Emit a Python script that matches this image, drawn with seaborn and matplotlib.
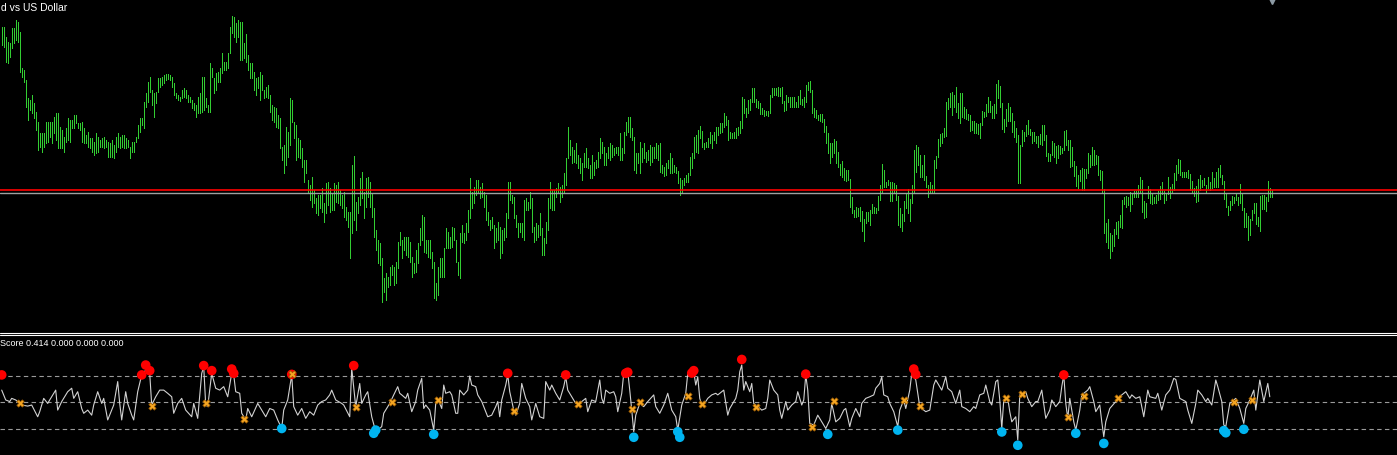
import numpy as np
import pandas as pd
import matplotlib
matplotlib.use('Agg')
import matplotlib.pyplot as plt
from matplotlib.lines import Line2D
import seaborn as sns

sns.set_theme(style='dark', rc={'axes.facecolor': 'black', 'figure.facecolor': 'black'})
plt.rcParams['font.family'] = ['Liberation Sans', 'DejaVu Sans']

# Prezzi in punti (price = BASE + pts * POINT), una barra ogni 2 px
BASE = 0.69000
POINT = 0.00001

hi_pts = [
    950, 950, 920, 905, 900, 945, 945, 970, 965, 935, 825, 820, 790, 735, 730, 745, 720, 695, 665, 630,
    630, 630, 665, 665, 665, 665, 680, 690, 690, 650, 640, 620, 645, 675, 670, 670, 685, 685, 660, 660,
    663, 645, 625, 635, 615, 615, 605, 630, 620, 610, 615, 620, 610, 605, 600, 610, 595, 620, 630, 620,
    625, 625, 615, 610, 590, 605, 605, 620, 655, 675, 675, 725, 750, 785, 800, 760, 750, 755, 795, 795,
    800, 805, 808, 807, 804, 800, 782, 750, 745, 738, 760, 765, 760, 745, 740, 730, 720, 715, 738, 750,
    800, 800, 735, 715, 840, 825, 795, 810, 815, 825, 870, 845, 845, 870, 950, 982, 978, 960, 970, 965,
    965, 900, 928, 865, 840, 840, 815, 795, 800, 815, 805, 760, 770, 775, 745, 715, 710, 705, 685, 675,
    590, 595, 650, 635, 735, 730, 665, 655, 615, 610, 585, 550, 550, 490, 475, 500, 460, 435, 445, 445,
    465, 420, 480, 485, 465, 450, 480, 475, 485, 460, 445, 455, 410, 395, 395, 535, 562, 425, 440, 495,
    515, 455, 495, 500, 485, 450, 405, 340, 310, 300, 255, 195, 210, 200, 230, 235, 230, 245, 305, 335,
    310, 320, 320, 320, 305, 260, 240, 280, 300, 345, 385, 380, 310, 310, 310, 275, 245, 180, 230, 255,
    255, 285, 345, 335, 320, 350, 345, 310, 245, 330, 355, 330, 360, 400, 495, 455, 470, 490, 490, 470,
    480, 455, 445, 395, 370, 380, 355, 345, 365, 350, 340, 345, 390, 485, 485, 445, 440, 385, 360, 360,
    360, 430, 435, 425, 455, 435, 350, 360, 355, 390, 345, 315, 365, 435, 485, 460, 460, 465, 480, 470,
    475, 510, 555, 650, 610, 590, 580, 600, 565, 555, 540, 570, 585, 555, 535, 565, 545, 550, 575, 615,
    605, 590, 570, 590, 600, 595, 585, 590, 590, 630, 585, 635, 665, 678, 680, 645, 620, 570, 570, 605,
    585, 600, 575, 580, 595, 590, 590, 600, 595, 602, 535, 530, 540, 550, 570, 555, 535, 530, 518, 495,
    490, 495, 505, 512, 560, 570, 620, 625, 640, 652, 638, 602, 605, 615, 635, 625, 635, 650, 650, 660,
    660, 692, 682, 670, 635, 630, 635, 645, 648, 667, 740, 732, 705, 730, 732, 765, 765, 732, 728, 720,
    705, 700, 698, 697, 745, 765, 765, 765, 768, 765, 768, 728, 745, 738, 738, 738, 738, 725, 742, 760,
    732, 738, 775, 785, 787, 760, 705, 700, 685, 688, 688, 672, 652, 630, 600, 602, 612, 608, 573, 537,
    548, 525, 520, 520, 493, 438, 400, 410, 405, 408, 398, 374, 395, 395, 400, 418, 410, 405, 442, 475,
    538, 520, 485, 490, 485, 485, 480, 475, 443, 405, 388, 427, 450, 462, 433, 475, 580, 595, 590, 565,
    535, 565, 502, 475, 485, 475, 550, 562, 612, 628, 632, 645, 725, 735, 750, 755, 745, 768, 722, 750,
    750, 708, 702, 687, 685, 667, 667, 660, 658, 660, 697, 695, 718, 738, 728, 712, 718, 778, 790, 772,
    720, 672, 702, 720, 708, 690, 667, 645, 625, 595, 640, 633, 655, 670, 642, 635, 633, 622, 622, 628,
    655, 655, 625, 570, 568, 607, 600, 592, 595, 592, 585, 637, 640, 610, 610, 588, 547, 532, 505, 520,
    526, 524, 522, 570, 565, 588, 580, 565, 562, 520, 517, 462, 360, 372, 330, 325, 343, 365, 367, 385,
    430, 438, 442, 440, 455, 450, 457, 457, 475, 498, 490, 428, 422, 472, 462, 452, 440, 445, 458, 472,
    485, 457, 448, 498, 468, 478, 510, 535, 552, 550, 515, 515, 515, 520, 508, 487, 465, 472, 492, 505,
    490, 495, 475, 498, 485, 514, 495, 513, 525, 535, 505, 488, 450, 412, 427, 442, 440, 450, 440, 478,
    450, 405, 390, 382, 372, 400, 420, 420, 380, 442, 445, 445, 438, 487, 465, 460,
]

lo_pts = [
    895, 888, 845, 840, 860, 885, 900, 910, 905, 815, 800, 785, 710, 670, 700, 690, 675, 640, 580, 590,
    575, 590, 600, 605, 620, 600, 630, 610, 585, 585, 585, 575, 605, 610, 605, 645, 645, 660, 645, 640,
    605, 600, 600, 590, 585, 575, 565, 570, 575, 590, 590, 585, 590, 560, 560, 560, 555, 575, 590, 585,
    590, 585, 585, 590, 555, 575, 575, 605, 615, 635, 655, 645, 710, 725, 755, 715, 680, 720, 755, 770,
    775, 780, 790, 793, 790, 770, 745, 735, 730, 728, 735, 740, 735, 725, 725, 705, 700, 680, 690, 690,
    695, 700, 710, 695, 695, 800, 750, 760, 785, 785, 810, 820, 820, 825, 870, 930, 920, 905, 920, 850,
    850, 855, 845, 820, 795, 795, 760, 745, 765, 730, 760, 735, 740, 735, 695, 670, 665, 650, 645, 585,
    550, 510, 535, 560, 595, 665, 615, 550, 560, 555, 530, 485, 510, 450, 430, 410, 420, 390, 385, 405,
    395, 365, 390, 415, 395, 400, 400, 425, 420, 415, 405, 380, 370, 350, 255, 330, 370, 340, 390, 415,
    435, 375, 410, 440, 410, 380, 320, 280, 240, 235, 125, 155, 130, 170, 175, 205, 175, 180, 225, 295,
    255, 280, 265, 260, 245, 200, 210, 215, 240, 295, 310, 275, 270, 260, 255, 225, 135, 130, 145, 200,
    200, 200, 285, 285, 285, 290, 310, 245, 205, 195, 305, 300, 310, 335, 375, 405, 420, 445, 450, 435,
    440, 410, 370, 355, 340, 345, 285, 305, 310, 255, 270, 310, 320, 375, 430, 420, 375, 350, 320, 335,
    320, 310, 400, 400, 405, 335, 305, 310, 320, 325, 265, 265, 300, 340, 405, 400, 400, 440, 455, 425,
    440, 455, 475, 555, 565, 540, 545, 540, 525, 510, 490, 530, 530, 525, 495, 495, 505, 525, 530, 555,
    570, 535, 535, 555, 550, 560, 565, 570, 565, 550, 550, 570, 625, 635, 620, 610, 520, 510, 540, 510,
    545, 555, 545, 550, 535, 545, 555, 555, 550, 515, 510, 503, 505, 525, 510, 510, 515, 510, 480, 445,
    450, 475, 485, 485, 505, 525, 555, 575, 570, 615, 590, 582, 590, 590, 600, 585, 610, 600, 625, 630,
    635, 650, 655, 610, 615, 615, 615, 615, 625, 632, 645, 690, 678, 690, 700, 725, 725, 710, 707, 688,
    688, 682, 685, 683, 690, 738, 745, 745, 742, 742, 720, 698, 700, 725, 708, 710, 710, 710, 710, 718,
    715, 708, 725, 760, 755, 690, 680, 675, 670, 667, 665, 635, 602, 572, 542, 560, 572, 540, 530, 505,
    500, 490, 488, 490, 410, 392, 380, 378, 382, 368, 338, 308, 360, 368, 355, 390, 390, 390, 400, 430,
    455, 470, 468, 475, 428, 428, 450, 430, 355, 350, 338, 368, 405, 390, 368, 422, 455, 515, 535, 500,
    500, 490, 470, 438, 452, 452, 455, 525, 560, 592, 602, 618, 622, 702, 708, 685, 708, 695, 675, 660,
    680, 675, 672, 670, 638, 640, 632, 630, 628, 615, 655, 678, 682, 695, 695, 675, 675, 690, 735, 710,
    642, 635, 652, 668, 668, 635, 620, 605, 482, 480, 592, 608, 622, 628, 625, 602, 608, 602, 588, 598,
    595, 610, 562, 548, 548, 565, 560, 542, 555, 568, 570, 580, 595, 580, 530, 532, 502, 472, 465, 488,
    460, 460, 495, 512, 530, 535, 535, 538, 505, 490, 450, 330, 305, 287, 255, 278, 292, 328, 317, 348,
    347, 418, 410, 415, 398, 418, 438, 440, 440, 452, 395, 375, 378, 435, 422, 418, 420, 422, 430, 432,
    448, 420, 430, 448, 435, 455, 460, 490, 512, 505, 498, 498, 498, 495, 460, 450, 442, 425, 428, 460,
    470, 475, 452, 465, 460, 465, 468, 468, 470, 500, 478, 433, 408, 385, 400, 415, 422, 430, 415, 420,
    400, 348, 350, 310, 325, 370, 390, 358, 352, 338, 403, 403, 398, 428, 440, 438,
]

ask_pts = 459
bid_pts = 451

# Oscillatore "Score": vertici (indice barra, valore)
osc_i = [
    0, 2, 4, 5, 7, 9, 10, 13, 15, 18, 19, 21, 23, 24, 27, 28, 30, 33, 35, 36, 38, 40, 41, 43, 45, 46, 48,
    50, 51, 53, 55, 56, 58, 59, 60, 62, 63, 65, 66, 68, 70, 72, 74, 75, 77, 79, 81, 83, 85, 86, 88, 90,
    92, 95, 96, 98, 100, 101, 102, 103, 105, 107, 109, 111, 113, 115, 116, 117, 119, 120, 122, 123, 125,
    128, 130, 132, 134, 136, 138, 140, 141, 143, 145, 146, 148, 150, 152, 154, 156, 158, 160, 162, 164,
    165, 167, 170, 171, 174, 175, 177, 179, 180, 182, 183, 185, 187, 190, 191, 194, 196, 198,
    199, 200, 202, 203, 205, 207, 208, 210, 211, 212, 214, 215, 216, 217, 218, 220, 221, 222, 224, 225,
    227, 228, 229, 231, 233, 234, 235, 237, 238, 240, 242, 243, 245, 247, 248, 249, 250, 252, 253, 254,
    256, 257, 259, 260, 262, 264, 265, 267, 269, 271, 272, 274, 275, 277, 279, 281, 282, 283, 285, 287,
    290, 292, 293, 295, 297, 299, 300, 301, 302, 304, 306, 307, 308, 310, 311, 313, 314, 315, 316, 317,
    319, 321, 323, 326, 327, 329, 331, 333, 335, 337, 338, 340, 342, 343,
    346, 347, 348, 349, 350, 352, 353, 355, 357, 358, 361, 363, 364, 367, 368, 369, 370, 371, 372, 374,
    375, 376, 378, 380, 382, 383, 384, 386, 388, 389, 390, 392, 393, 395, 397, 398, 400, 401, 402, 403,
    404, 406, 408, 410, 412, 414, 415, 417, 419, 421, 422, 424, 425, 427, 429, 430, 432, 434, 436, 437,
    439, 440, 441, 443, 444, 446, 448, 449, 451, 452, 454, 455, 457, 459, 460, 462, 464, 466, 467, 469,
    470, 472, 473, 475, 477, 479, 480, 482, 484, 486, 487,
    489, 491, 492, 494, 495, 497, 498, 499, 500, 501, 503, 504, 505, 507, 508, 509, 512, 513, 515, 517,
    518, 520, 522, 524, 525, 527, 529, 530, 531, 532, 533, 534, 536, 537, 539, 540, 543, 544, 546, 547,
    549, 550, 551, 552, 554, 557, 560, 562, 564, 565, 567, 569, 571, 573, 574, 577, 578, 580, 582, 584,
    586, 587, 589, 592, 593, 595, 597, 598, 600, 602, 603, 605, 607, 608, 610, 611, 612, 614, 617, 619,
    621, 622, 624, 626, 627, 629, 631, 633, 634,
]
osc_v = [
    0.46, 0.09, 0.03, 0.15, 0.09, -0.04, -0.10, -0.14, -0.10, -0.54, -0.35, 0.15, -0.04, 0.09, 0.46, -0.29,
    0.03, 0.40, 0.53, 0.15, 0.40, -0.23, -0.41, -0.29, -0.48, -0.10, 0.40, -0.04, 0.15, -0.66, -0.29, -0.10,
    0.78, -0.04, -0.66, 0.40, -0.04, -0.48, -0.66, 0.40, 1.03, 1.21, 1.09, -0.10, 0.21, 0.46, 0.46, 0.34,
    0.21, -0.41, -0.04, 0.15, -0.29, -0.54, -0.04, -0.60, 1.09, 1.34, -0.10, -0.16, 1.09, 0.53, 0.46, 0.59,
    0.21, 1.09, 1.03, 0.40, 0.34, -0.41, -0.66, -0.23, -0.54, -0.04, -0.29, -0.54, -0.23, -0.29, -0.66,
    -0.98, -0.29, 0.09, 1.03, -0.16, -0.48, -0.23, -0.60, -0.35, -0.48, -0.10, 0.03, 0.09, 0.28, 0.46, 0.09,
    -0.04, -0.10, -0.54, 1.28, -0.16, 0.71, -0.04, 0.28, 0.40, -0.54, -1.10, -0.91, -0.41, -0.04, 0.28, 0.59,
    0.34, 0.28, 0.15, 0.34, -0.35, 0.03, 0.46, 0.90, -0.23, -0.10, -0.29, -0.66, -1.04, -0.04, 0.15, -0.23,
    0.65, 0.34, 0.40, 0.28, -0.41, -0.41, 0.46, 0.28, 0.46, 0.99, 0.65, 0.59, 0.28, 0.03, -0.35, -0.54,
    -0.48, -0.16, 0.03, -0.54, 0.09, 0.65, 1.03, 0.40, -0.29, -0.48, -0.04, 0.71, 0.15, -0.16, -0.66, -0.04,
    -0.54, -0.60, 0.78, 0.46, 0.65, 0.34, 0.09, 0.59, 0.96, 0.46, 0.21, -0.04, 0.03, 0.15, -0.35, 0.09,
    0.03, 0.84, 0.15, -0.04, 0.46, 0.34, 0.40, 0.21, -0.35, 0.34, 1.09, 1.15, 0.46, -0.29, -1.10, -0.48,
    -0.04, -0.16, 0.03, 0.28, -0.16, -0.41, -0.10, 0.34, -0.29, -0.54, -1.04, -0.10, 0.34, 1.09,
    1.15, 0.65, 0.96, 0.15, -0.10, 0.03, 0.15, 0.28, 0.34, 0.28, 0.46, -0.48, -0.23, 0.15, 0.46, 1.15,
    1.40, 0.46, 0.78, 0.40, 0.71, -0.04, -0.16, -0.29, -0.23, 0.15, 0.84, 0.46, 0.28, -0.29, -0.60, 0.03,
    -0.29, -0.10, 0.03, 0.40, -0.10, 0.09, 1.03, 0.46, -0.79, -0.85, -0.48, -0.73, -0.98, -0.66, -0.04,
    -0.73, -0.60, -0.29, -0.23, -0.91, -0.60, -0.23, -0.54, -0.04, 0.15, 0.21, 0.28, 0.53, 0.71, 0.96,
    0.28, 0.21, -0.04, -0.35, -0.91, -0.29, 0.09, -0.23, 0.46, 1.09, 0.84, -0.16, -0.23, -0.35, -0.29,
    0.65, 0.84, 0.59, 0.46, 0.96, 0.53, 0.40, -0.04, 0.46, -0.16, -0.23, -0.35, -0.16, -0.23,
    0.28, 0.34, 0.65, 0.03, -0.10, 0.78, 0.84, 0.09, -0.98, 0.09, 0.15, -0.35, -0.73, -0.54, -1.41, 0.28,
    0.40, 0.15, -0.16, 0.03, 0.03, 0.46, -0.60, -0.29, 0.09, -0.16, 0.03, 0.59, 1.03, -0.04, -0.60, 0.15,
    -0.73, -1.04, -0.29, 0.28, 0.46, 0.59, 0.03, -0.35, -0.10, -0.73, -1.29, -0.73, -0.23, 0.03, 0.28, 0.40,
    0.15, 0.28, 0.15, 0.21, -0.54, 0.46, 0.21, 0.15, 0.34, -0.29, 0.28, 0.46, 0.90, 0.86, 0.15, 0.03,
    -0.29, -0.79, -0.04, 0.46, 0.28, 0.03, 0.15, -0.10, 0.84, 0.59, 0.03, -0.85, -0.91, -0.04, 0.15, -0.23,
    -0.79, -0.23, 0.09, 0.46, -0.29, 0.84, 0.03, 0.71, 0.21,
]

red_i = [0, 70, 72, 74, 101, 105, 115, 116, 145, 176, 253, 282, 312, 313, 345, 346, 370, 402, 456, 457, 531]
red_v = [1.03, 1.03, 1.40, 1.19, 1.38, 1.19, 1.25, 1.09, 1.05, 1.38, 1.09, 1.03, 1.09, 1.13,
         1.10, 1.19, 1.61, 1.06, 1.25, 1.05, 1.03]
blue_i = [140, 186, 187, 216, 316, 338, 339, 413, 448, 500, 508, 537, 551, 611, 612, 621]
blue_v = [-0.98, -1.16, -1.04, -1.20, -1.31, -1.10, -1.31, -1.20, -1.04,
          -1.11, -1.61, -1.16, -1.54, -1.06, -1.14, -1.01]
orange_i = [9, 75, 102, 121, 145, 177, 195, 218, 256, 288, 315, 319, 343,
            350, 377, 405, 416, 451, 459, 502, 510, 533, 541, 558, 616, 625]
orange_v = [-0.01, -0.14, -0.04, -0.64, 1.05, -0.19, 0.03, 0.09, -0.33, -0.06, -0.25, 0.0, 0.25,
            -0.08, -0.16, -0.91, 0.06, 0.09, -0.13, 0.18, 0.30, -0.54, 0.24, 0.18, 0.03, 0.09]
levels = [1.0, 0.0, -1.0]

title = 'd vs US Dollar'
score_label = 'Score 0.414 0.000 0.000 0.000'

# DataFrame barre
bars = pd.DataFrame({'high': BASE + np.array(hi_pts) * POINT,
                     'low': BASE + np.array(lo_pts) * POINT})
bars['i'] = np.arange(len(bars))
osc = pd.DataFrame({'i': osc_i, 'v': osc_v})

W, H = 1397, 455
fig = plt.figure(figsize=(W / 100, H / 100), dpi=100, facecolor='black')
ax = fig.add_axes([0, 1 - 331 / H, 1, 331 / H])
ax2 = fig.add_axes([0, 0, 1, (H - 336) / H])

for a in (ax, ax2):
    a.set_facecolor('black')
    a.set_xlim(-0.85, 697.6)
    a.set_xticks([])
    a.set_yticks([])
    a.set_xlabel('')
    a.set_ylabel('')
    for s in a.spines.values():
        s.set_visible(False)
    a.grid(False)

# pannello prezzi (barre sottili da 1 px)
ax.vlines(bars['i'], bars['low'], bars['high'], colors='#32cd32', lw=0.45, antialiased=False)
ax.axhline(BASE + ask_pts * POINT, color='#ff0000', lw=1.2)
ax.axhline(BASE + bid_pts * POINT, color='#a0a0a0', lw=1.0)
ax.set_ylim(BASE + 37 * POINT, BASE + 1030 * POINT)
ax.plot([len(bars) - 1], [BASE + 1027 * POINT], marker='v', ms=4, color='#8c9aa4', clip_on=False)

# pannello oscillatore
for lv in levels:
    ax2.axhline(lv, color='#9a9a9a', lw=0.8, ls=(0, (4, 3)))
sns.lineplot(data=osc, x='i', y='v', ax=ax2, color='#d2d2d2', lw=0.8, estimator=None, errorbar=None)
sns.scatterplot(x=red_i, y=red_v, ax=ax2, color='#ff0000', s=48, edgecolor='none', zorder=4)
sns.scatterplot(x=blue_i, y=blue_v, ax=ax2, color='#00b4f0', s=48, edgecolor='none', zorder=4)
sns.scatterplot(x=orange_i, y=orange_v, ax=ax2, color='#f5a623', marker='X', s=28,
                edgecolor='#9a5a00', linewidth=0.5, zorder=5)
ax2.set_ylim(-1.975, 2.49)
ax2.set_xlim(-0.85, 697.6)
ax2.set_xlabel('')
ax2.set_ylabel('')

# separatore doppio
for yp in (332.7, 334.7):
    fig.add_artist(Line2D([0, 1], [1 - yp / H] * 2, color='white', lw=0.8, transform=fig.transFigure))

fig.text(1 / W, 1 - 8 / H, title, color='white', fontsize=7.5, ha='left', va='center')
fig.text(0 / W, 1 - 343.5 / H, score_label, color='white', fontsize=6.5, ha='left', va='center')

fig.savefig('out.png', dpi=100, facecolor='black')
